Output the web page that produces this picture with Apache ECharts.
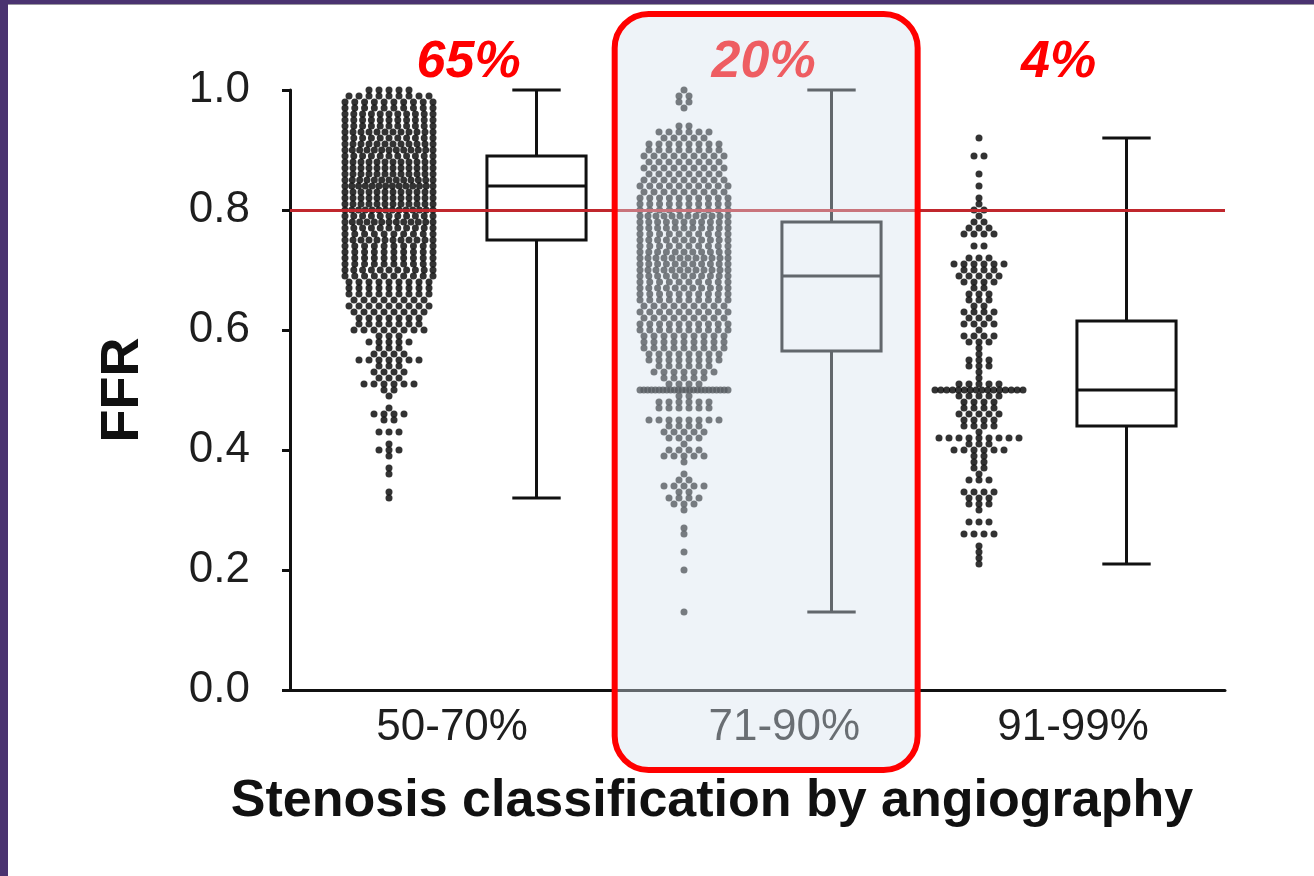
<!DOCTYPE html>
<html>
<head>
<meta charset="utf-8">
<title>FFR by stenosis classification</title>
<script src="https://cdn.jsdelivr.net/npm/echarts@6/dist/echarts.min.js"></script>
<style>
  html, body { margin: 0; padding: 0; background: #ffffff; }
  #chart { width: 1314px; height: 876px; }
</style>
</head>
<body>
<div id="chart"></div>
<script>
// ---- data ---------------------------------------------------------------
const categories = ['50-70%', '71-90%', '91-99%'];
const shares = ['65%', '20%', '4%'];
const yTicks = [0.0, 0.2, 0.4, 0.6, 0.8, 1.0];
const cutoffFFR = 0.8;

// Highest FFR level of each dot column; counts below go down in 0.01 steps.
const topLevels = [1.00, 1.00, 0.92];

// Number of lesions at each FFR level (0.01 steps, listed from the top level down)
const dots5070 = [
  5, 9, 10, 10, 11, 11, 11, 12, 11, 12,      // 1.00 - 0.91
  13, 11, 12, 12, 12, 13, 14, 12, 12, 12,    // 0.90 - 0.81
  14, 11, 13, 11, 10, 12, 10, 10, 10, 10,    // 0.80 - 0.71
  11, 10, 9, 9, 9, 8, 9, 8, 7, 7,            // 0.70 - 0.61
  8, 3, 5, 3, 4, 7, 3, 4, 3, 6,              // 0.60 - 0.51
  2, 1, 0, 1, 4, 2, 0, 3, 0, 1,              // 0.50 - 0.41
  3, 1, 0, 1, 1, 0, 0, 1, 1                  // 0.40 - 0.32
];
const dots7190 = [
  1, 2, 2, 1, 0, 0, 2, 6, 5, 8,              // 1.00 - 0.91
  8, 9, 8, 9, 8, 9, 10, 9, 10, 10,           // 0.90 - 0.81
  10, 12, 11, 11, 10, 11, 10, 11, 12, 11,    // 0.80 - 0.71
  12, 11, 10, 11, 10, 10, 9, 10, 9, 10,      // 0.70 - 0.61
  10, 9, 9, 9, 8, 8, 6, 7, 5, 4,             // 0.60 - 0.51
  24, 2, 6, 6, 0, 8, 4, 5, 4, 1,             // 0.50 - 0.41
  4, 5, 1, 0, 1, 2, 5, 2, 4, 3,              // 0.40 - 0.31
  1, 0, 0, 1, 1, 0, 0, 1, 0, 0,              // 0.30 - 0.21
  1, 0, 0, 0, 0, 0, 0, 1                     // 0.20 - 0.13
];
const dots9199 = [
  1, 0, 0, 2, 0, 0, 1, 0, 1, 0,              // 0.92 - 0.83
  1, 1, 2, 1, 2, 3, 4, 0, 2, 0,              // 0.82 - 0.73
  3, 6, 4, 5, 4, 2, 3, 3, 2, 4,              // 0.72 - 0.63
  3, 4, 1, 4, 3, 1, 1, 3, 3, 1,              // 0.62 - 0.53
  1, 5, 16, 5, 4, 4, 5, 4, 4, 1,             // 0.52 - 0.43
  9, 3, 6, 2, 2, 2, 1, 3, 0, 4,              // 0.42 - 0.33
  3, 3, 1, 0, 3, 0, 4, 0, 1, 1,              // 0.32 - 0.23
  1, 1                                       // 0.22 - 0.21
];

// Box-and-whisker statistics: [min, Q1, median, Q3, max]
const box5070 = [0.32, 0.75, 0.84, 0.89, 1.00];
const box7190 = [0.13, 0.565, 0.69, 0.78, 1.00];
const box9199 = [0.21, 0.44, 0.50, 0.615, 0.92];

// ---- layout -------------------------------------------------------------
const FONT = "'Liberation Sans', Arial, Helvetica, sans-serif";
const INK = '#111111';
const dotColumns = [dots5070, dots7190, dots9199];
const boxStats = [box5070, box7190, box9199];

// x axis runs in group units: group g is centred on g, dots left, box right
const DOT_SHIFT = -0.25;
const BOX_SHIFT = 0.25;
const X_MIN = -0.5856;
const X_MAX = 2.5839;
const labelPositions = [-0.036, 1.09, 2.069];
const DOT_STEP = 10 / 295;    // horizontal pitch between neighbouring dots
const MAX_SPREAD = 88 / 295;  // widest a row of dots may get

// Spread the dots of each FFR level sideways, centred on the column
function buildDots(counts, top, g) {
  const pts = [];
  counts.forEach(function (n, i) {
    if (!n) return;
    const v = Math.round((top - i * 0.01) * 100) / 100;
    const step = n > 1 ? Math.min(DOT_STEP, MAX_SPREAD / (n - 1)) : 0;
    for (let k = 0; k < n; k++) {
      pts.push([g + DOT_SHIFT + (k - (n - 1) / 2) * step, v]);
    }
  });
  return pts;
}
const dotData = [];
dotColumns.forEach(function (c, g) {
  buildDots(c, topLevels[g], g).forEach(function (p) { dotData.push(p); });
});
const boxData = boxStats.map(function (s, g) { return [g + BOX_SHIFT].concat(s); });

const chart = echarts.init(document.getElementById('chart'), null, { renderer: 'canvas' });

function renderBox(params, api) {
  const x = api.value(0);
  const lo = api.value(1), q1 = api.value(2), med = api.value(3), q3 = api.value(4), hi = api.value(5);
  const halfBox = 0.168, halfCap = 0.082;
  const c = function (xx, yy) { return api.coord([xx, yy]); };
  const line = function (a, b) {
    return {
      type: 'line',
      shape: { x1: a[0], y1: a[1], x2: b[0], y2: b[1] },
      style: { stroke: INK, lineWidth: 3, lineCap: 'butt' }
    };
  };
  const tl = c(x - halfBox, q3);
  const br = c(x + halfBox, q1);
  return {
    type: 'group',
    children: [
      line(c(x, hi), c(x, q3)),
      line(c(x, q1), c(x, lo)),
      line(c(x - halfCap, hi), c(x + halfCap, hi)),
      line(c(x - halfCap, lo), c(x + halfCap, lo)),
      {
        type: 'rect',
        shape: { x: tl[0], y: tl[1], width: br[0] - tl[0], height: br[1] - tl[1] },
        style: { fill: '#ffffff', stroke: INK, lineWidth: 3 }
      },
      line(c(x - halfBox, med), c(x + halfBox, med))
    ]
  };
}

chart.setOption({
  animation: false,
  backgroundColor: '#ffffff',
  grid: { left: 290, right: 89, top: 90, bottom: 186, containLabel: false },
  xAxis: {
    type: 'value',
    min: X_MIN,
    max: X_MAX,
    splitLine: { show: false },
    axisTick: { show: false },
    axisLine: { onZero: false, lineStyle: { color: INK, width: 3 } },
    axisLabel: {
      customValues: labelPositions,
      formatter: function (v) {
        const i = labelPositions.indexOf(v);
        return i >= 0 ? categories[i] : '';
      },
      fontFamily: FONT,
      fontSize: 44,
      color: '#1e1e1e',
      margin: 16
    }
  },
  yAxis: {
    type: 'value',
    min: 0,
    max: 1,
    interval: 0.2,
    name: 'FFR',
    nameLocation: 'middle',
    nameRotate: 90,
    nameGap: 140,
    nameTextStyle: { fontFamily: FONT, fontSize: 54, fontWeight: 'bold', color: INK },
    splitLine: { show: false },
    axisLine: { show: true, onZero: false, lineStyle: { color: INK, width: 3 } },
    axisTick: { show: true, length: 8, lineStyle: { color: INK, width: 3 } },
    axisLabel: {
      fontFamily: FONT,
      fontSize: 44,
      color: '#1e1e1e',
      margin: 40,
      padding: [10, 0, 0, 0],
      formatter: function (v) {
        const i = yTicks.findIndex(function (t) { return Math.abs(t - v) < 1e-9; });
        return i >= 0 ? yTicks[i].toFixed(1) : '';
      }
    }
  },
  series: [
    {
      // FFR 0.80 ischaemia cut-off
      type: 'line',
      data: [],
      z: 1,
      markLine: {
        silent: true,
        symbol: 'none',
        label: { show: false },
        lineStyle: { color: '#c0272d', width: 3, type: 'solid' },
        data: [{ yAxis: cutoffFFR }]
      }
    },
    {
      type: 'custom',
      z: 3,
      renderItem: renderBox,
      encode: { x: 0, y: [1, 2, 3, 4, 5] },
      data: boxData
    },
    {
      type: 'scatter',
      z: 4,
      symbol: 'circle',
      symbolSize: 7,
      itemStyle: { color: '#000000' },
      data: dotData
    }
  ]
});

// Annotations placed from the axis scale: shares above groups, highlight panel
const px = function (x, y) { return chart.convertToPixel({ gridIndex: 0 }, [x, y]); };
const shareTexts = shares.map(function (s, g) {
  const p = px(g + 0.02, 1.045);
  return {
    type: 'text',
    z: 50,
    x: p[0],
    y: p[1],
    style: {
      text: s,
      fill: '#ff0000',
      font: 'italic bold 52px ' + FONT,
      textAlign: 'center',
      textVerticalAlign: 'middle'
    }
  };
});
const panelLeft = px(1 - 0.485, 0)[0];
const panelRight = px(1 + 0.542, 0)[0];

chart.setOption({
  graphic: [
    // slide frame
    { type: 'rect', z: 200, shape: { x: 0, y: 0, width: 1314, height: 4 }, style: { fill: '#4a3370' } },
    { type: 'rect', z: 200, shape: { x: 0, y: 4, width: 1314, height: 1 }, style: { fill: '#9a98a0' } },
    { type: 'rect', z: 200, shape: { x: 0, y: 0, width: 8, height: 876 }, style: { fill: '#4a3370' } },
    {
      type: 'text',
      z: 50,
      x: 712,
      y: 802,
      style: {
        text: 'Stenosis classification by angiography',
        fill: INK,
        font: 'bold 52px ' + FONT,
        textAlign: 'center',
        textVerticalAlign: 'middle'
      }
    }
  ].concat(shareTexts).concat([
    {
      // highlighted 71-90% group
      type: 'rect',
      z: 100,
      shape: { x: panelLeft, y: 14, width: panelRight - panelLeft, height: 756, r: 34 },
      style: { fill: 'rgba(214,227,239,0.41)', stroke: '#ff0000', lineWidth: 6 }
    }
  ])
});
</script>
</body>
</html>
